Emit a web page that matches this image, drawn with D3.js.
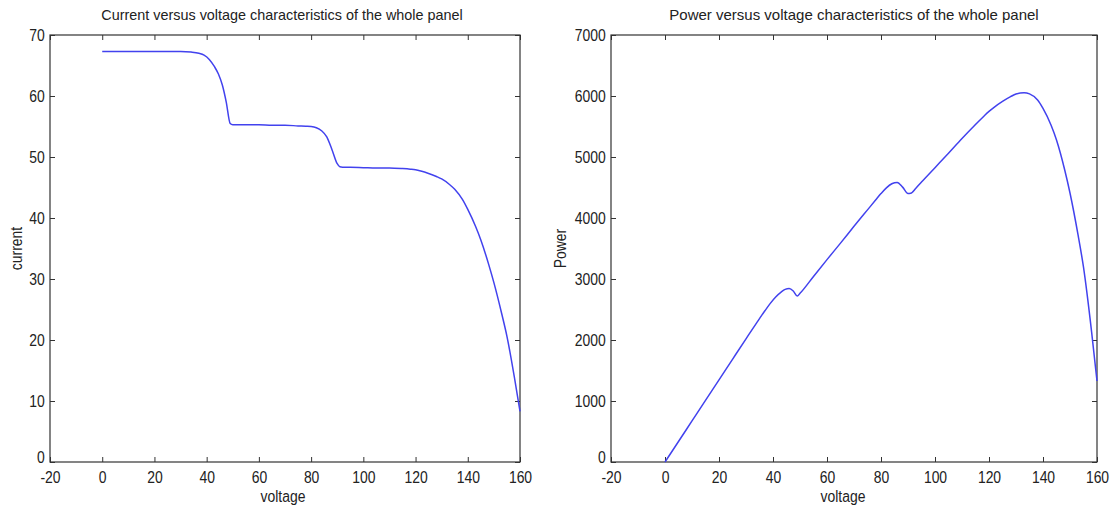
<!DOCTYPE html>
<html>
<head>
<meta charset="utf-8">
<script src="https://cdn.jsdelivr.net/npm/d3@7"></script>
<style>
  html, body { margin: 0; padding: 0; background: #fff; }
  svg { display: block; }
  text { font-family: "Liberation Sans", Arial, sans-serif; fill: #222; }
</style>
</head>
<body>
<svg id="chart" width="1112" height="510"></svg>
<script>
// ---- data ----
const voltage = [0, 5, 10, 15, 20, 25, 30, 34, 37, 39, 41, 43, 44.5, 46, 47.5, 49, 50, 55, 60, 65, 70, 75, 78, 80, 82, 84, 86, 88, 90, 91, 93, 95, 100, 105, 110, 115, 118, 120, 122, 125, 128, 130, 133, 135, 138, 140, 143, 145, 148, 150, 153, 155, 158, 160];
const current = [67.3, 67.3, 67.3, 67.3, 67.3, 67.3, 67.3, 67.2, 67.0, 66.7, 66.0, 64.8, 63.6, 61.8, 59.0, 55.5, 55.3, 55.3, 55.3, 55.2, 55.2, 55.1, 55.05, 55.0, 54.8, 54.3, 53.3, 51.2, 48.9, 48.4, 48.3, 48.3, 48.25, 48.2, 48.2, 48.1, 48.0, 47.9, 47.7, 47.3, 46.8, 46.4, 45.5, 44.7, 43.0, 41.4, 38.6, 36.4, 32.4, 29.4, 24.3, 20.6, 13.5, 8.3];
const power = [0, 336, 673, 1010, 1346, 1683, 2019, 2285, 2479, 2601, 2706, 2786, 2830, 2843, 2803, 2720, 2765, 3042, 3318, 3588, 3864, 4133, 4294, 4400, 4494, 4561, 4584, 4506, 4401, 4404, 4492, 4589, 4825, 5061, 5302, 5532, 5664, 5748, 5819, 5912, 5990, 6032, 6052, 6034, 5934, 5796, 5520, 5278, 4795, 4410, 3718, 3193, 2133, 1328];

const xTicks = [-20, 0, 20, 40, 60, 80, 100, 120, 140, 160];
const currentTicks = [0, 10, 20, 30, 40, 50, 60, 70];
const powerTicks = [0, 1000, 2000, 3000, 4000, 5000, 6000, 7000];

const titles = ["Current versus voltage characteristics of the whole panel",
                "Power versus voltage characteristics of the whole panel"];
const xLabel = "voltage";
const yLabels = ["current", "Power"];

// ---- drawing ----
const svg = d3.select("#chart");
const SX = 0.87;   // condensed look of the original font

function panel(opt) {
  const x = d3.scaleLinear().domain([-20, 160]).range([opt.left, opt.right]);
  const y = d3.scaleLinear().domain(opt.yDomain).range([opt.bottom, opt.top]);
  const g = svg.append("g");
  const fmt = d => String(d);
  const fs = "16px";

  const bx = g.append("g").attr("transform", `translate(0,${opt.bottom})`)
    .call(d3.axisBottom(x).tickValues(xTicks).tickSize(-5).tickPadding(10).tickFormat(fmt));
  const ly = g.append("g").attr("transform", `translate(${opt.left},0)`)
    .call(d3.axisLeft(y).tickValues(opt.yTicks).tickSize(-5).tickPadding(6).tickFormat(fmt));
  const tx = g.append("g").attr("transform", `translate(0,${opt.top})`)
    .call(d3.axisTop(x).tickValues(xTicks).tickSize(-5).tickFormat(""));
  const ry = g.append("g").attr("transform", `translate(${opt.right},0)`)
    .call(d3.axisRight(y).tickValues(opt.yTicks).tickSize(-5).tickFormat(""));

  [bx, ly, tx, ry].forEach(a => {
    a.select(".domain").remove();
    a.selectAll(".tick line").attr("stroke", "#333").attr("stroke-width", 1);
    a.selectAll("text").attr("font-size", fs).attr("fill", "#222")
      .attr("transform", `scale(${SX},1)`)
      .style("font-family", '"Liberation Sans", Arial, sans-serif');
  });
  // the zero label of the y axis sits a little higher, as in the original
  ly.selectAll(".tick").filter(d => d === 0).select("text").attr("dy", "0.05em");

  g.append("rect")
    .attr("x", opt.left).attr("y", opt.top)
    .attr("width", opt.right - opt.left).attr("height", opt.bottom - opt.top)
    .attr("fill", "none").attr("stroke", "#333").attr("stroke-width", 1.2);

  const line = d3.line().x((d, i) => x(voltage[i])).y(d => y(d)).curve(d3.curveMonotoneX);
  g.append("path").datum(opt.values)
    .attr("d", line)
    .attr("fill", "none")
    .attr("stroke", "#4242ee")
    .attr("stroke-width", 1.5);

  g.append("text")
    .attr("transform", `translate(${(opt.left + opt.right) / 2 + opt.titleShift},20) scale(${opt.titleScale},1)`)
    .attr("text-anchor", "middle")
    .attr("font-size", "15px")
    .text(opt.title);

  g.append("text")
    .attr("transform", `translate(${(opt.left + opt.right) / 2 + opt.xLabelShift},502) scale(${SX},1)`)
    .attr("text-anchor", "middle")
    .attr("font-size", fs)
    .text(xLabel);

  g.append("text")
    .attr("transform", `translate(${opt.yLabelX},${(opt.top + opt.bottom) / 2}) rotate(-90) scale(${SX},1)`)
    .attr("text-anchor", "middle")
    .attr("font-size", fs)
    .text(opt.yLabel);
}

panel({ left: 50, right: 520, top: 35, bottom: 462, yDomain: [0, 70], yTicks: currentTicks,
        values: current, title: titles[0], yLabel: yLabels[0], yLabelX: 22, titleShift: -3, titleScale: 0.96, xLabelShift: -2 });
panel({ left: 611, right: 1097, top: 35, bottom: 462, yDomain: [0, 7000], yTicks: powerTicks,
        values: power, title: titles[1], yLabel: yLabels[1], yLabelX: 566, titleShift: 0, titleScale: 1, xLabelShift: -11 });
</script>
</body>
</html>
